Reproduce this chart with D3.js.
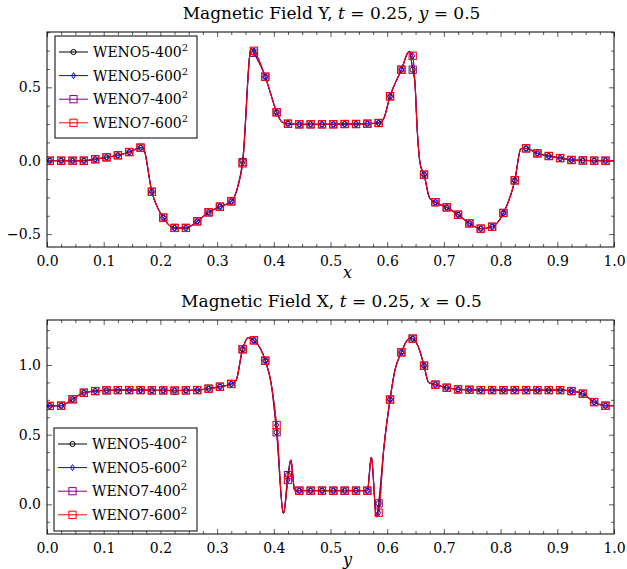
<!DOCTYPE html>
<html><head><meta charset="utf-8">
<script src="https://cdn.jsdelivr.net/npm/d3@7"></script>
<style>
html,body{margin:0;padding:0;background:#fff;}
svg text{font-family:"DejaVu Serif",serif;fill:#000;}
</style></head>
<body><svg id="chart" width="627" height="569"></svg>
<script>
// ---------- DATA ----------
const xMarks = [0.005,0.025,0.045,0.065,0.085,0.105,0.125,0.145,0.165,0.185,
                0.205,0.225,0.245,0.265,0.285,0.305,0.325,0.345,0.365,0.385,
                0.405,0.425,0.445,0.465,0.485,0.505,0.525,0.545,0.565,0.585,
                0.605,0.625,0.645,0.665,0.685,0.705,0.725,0.745,0.765,0.785,
                0.805,0.825,0.845,0.865,0.885,0.905,0.925,0.945,0.965,0.985];

const seriesNames = ["WENO5-400", "WENO5-600", "WENO7-400", "WENO7-600"];
const seriesColors = ["#000000", "#0000ff", "#800080", "#ff0000"];
const seriesMarks = ["circle", "diamond", "square", "square"];

// Top panel: Magnetic Field Y along x
const topBase = [0,0,0,0,0.01,0.023,0.037,0.059,0.089,-0.212,
                 -0.388,-0.458,-0.458,-0.413,-0.352,-0.313,-0.277,-0.018,0.749,0.572,
                 0.33,0.252,0.248,0.248,0.248,0.248,0.25,0.25,0.252,0.257,
                 0.439,0.62,0.715,-0.095,-0.283,-0.318,-0.368,-0.427,-0.463,-0.45,
                 -0.356,-0.134,0.084,0.05,0.032,0.018,0.005,0.002,0,0];
// per-series overrides [index, value]
const topDiff = [
  [[17,0.0],[18,0.735],[32,0.62]],
  [],
  [[17,-0.01],[18,0.735],[32,0.62]],
  []
];
// extra curve points between markers (shared)
const topExtraX = [0.0,0.169,0.337,0.36,0.395,0.415,0.593,0.639,0.649,0.653,0.658,0.675,0.836,1.0];
const topExtraY = [0.0,0.09,-0.17,0.766,0.45,0.262,0.28,0.745,0.527,0.209,-0.018,-0.256,0.082,0.0];

// Bottom panel: Magnetic Field X along y
const botBase = [0.706,0.708,0.754,0.801,0.813,0.818,0.82,0.82,0.82,0.818,
                 0.818,0.816,0.818,0.82,0.83,0.844,0.864,1.113,1.177,1.031,
                 0.569,0.19,0.098,0.098,0.098,0.098,0.098,0.098,0.098,-0.06,
                 0.752,1.091,1.189,0.995,0.859,0.837,0.825,0.822,0.82,0.82,
                 0.82,0.82,0.82,0.82,0.82,0.82,0.813,0.794,0.734,0.708];
const botDiff = [
  [[20,0.517],[21,0.21],[29,0.007]],
  [[21,0.175]],
  [[20,0.517],[21,0.21],[29,0.007]],
  [[21,0.175]]
];
const botExtraX = [0.0,0.333,0.355,0.396,0.417,0.43,0.437,0.572,0.581,0.594,0.613,0.64,0.655,0.673,1.0];
const botExtraY = [0.706,0.885,1.196,0.85,-0.065,0.318,0.098,0.337,-0.09,0.4,0.95,1.195,1.13,0.875,0.708];

const xTicks = [0,0.1,0.2,0.3,0.4,0.5,0.6,0.7,0.8,0.9,1.0];
const topYTicks = [-0.5,0,0.5];
const botYTicks = [0,0.5,1.0];

// ---------- DRAW ----------
const svg = d3.select("#chart");

function seriesMarkers(base, diff){
  const v = base.slice();
  diff.forEach(([i,val]) => v[i] = val);
  return xMarks.map((x,i)=>({x:x, y:v[i]}));
}

const markStroke = [0.8, 1.0, 1.0, 1.1];
function drawMarker(g, type, color, cx, cy, sw){
  if(type==="circle"){
    g.append("circle").attr("cx",cx).attr("cy",cy).attr("r",2.6)
      .attr("fill","none").attr("stroke",color).attr("stroke-width",sw);
  } else if(type==="diamond"){
    g.append("path").attr("d",`M${cx},${cy-3}L${cx+2},${cy}L${cx},${cy+3}L${cx-2},${cy}Z`)
      .attr("fill","none").attr("stroke",color).attr("stroke-width",sw);
  } else {
    g.append("rect").attr("x",cx-3.6).attr("y",cy-3.6).attr("width",7.2).attr("height",7.2)
      .attr("fill","none").attr("stroke",color).attr("stroke-width",sw);
  }
}

function panel(opts){
  const {left,right,top,bottom,yDomain,yTicks,base,diff,extraX,extraY,title,legendPos,axisVar} = opts;
  const x = d3.scaleLinear().domain([0,1]).range([left,right]);
  const y = d3.scaleLinear().domain(yDomain).range([bottom,top]);
  const g = svg.append("g");

  const cid = "clip"+Math.round(top);
  svg.append("clipPath").attr("id",cid).append("rect")
    .attr("x",left).attr("y",top).attr("width",right-left).attr("height",bottom-top);

  const xMinor = d3.range(0,1.0001,0.025).filter(v=>Math.abs(v*10-Math.round(v*10))>1e-6);
  const yMinor = d3.range(Math.ceil(yDomain[0]/0.125)*0.125, yDomain[1], 0.125)
        .filter(v=>Math.abs(v*2-Math.round(v*2))>1e-6);

  const mk = (axis, tr) => g.append("g").attr("transform",tr).call(axis)
       .call(s=>s.select(".domain").remove())
       .call(s=>s.selectAll("line").attr("stroke","#333").attr("stroke-width",0.8));

  mk(d3.axisBottom(x).tickValues(xTicks).tickSize(-5).tickPadding(9).tickFormat(d3.format(".1f")), `translate(0,${bottom})`)
    .selectAll("text").attr("font-size",14).attr("font-family","DejaVu Serif");
  mk(d3.axisBottom(x).tickValues(xMinor).tickSize(-3).tickFormat(""), `translate(0,${bottom})`);
  mk(d3.axisTop(x).tickValues(xTicks).tickSize(-5).tickFormat(""), `translate(0,${top})`);
  mk(d3.axisTop(x).tickValues(xMinor).tickSize(-3).tickFormat(""), `translate(0,${top})`);
  mk(d3.axisLeft(y).tickValues(yTicks).tickSize(-5).tickPadding(6).tickFormat(d3.format(".1f")), `translate(${left},0)`)
    .selectAll("text").attr("font-size",14).attr("font-family","DejaVu Serif");
  mk(d3.axisLeft(y).tickValues(yMinor).tickSize(-3).tickFormat(""), `translate(${left},0)`);
  mk(d3.axisRight(y).tickValues(yTicks).tickSize(-5).tickFormat(""), `translate(${right},0)`);
  mk(d3.axisRight(y).tickValues(yMinor).tickSize(-3).tickFormat(""), `translate(${right},0)`);

  const line = d3.line().x(d=>x(d.x)).y(d=>y(d.y)).curve(d3.curveMonotoneX);
  const extras = extraX.map((xx,i)=>({x:xx,y:extraY[i]}));
  const dg = g.append("g").attr("clip-path",`url(#${cid})`);
  const widths = [0.8,0.8,1.3,1.0];
  seriesNames.forEach((nm,si)=>{
    const marks = seriesMarkers(base, diff[si]);
    const pts = marks.concat(extras).sort((a,b)=>a.x-b.x);
    dg.append("path").datum(pts).attr("d",line).attr("fill","none")
      .attr("stroke",seriesColors[si]).attr("stroke-width",widths[si]);
  });
  seriesNames.forEach((nm,si)=>{
    const marks = seriesMarkers(base, diff[si]);
    marks.forEach(m=>drawMarker(dg, seriesMarks[si], seriesColors[si], x(m.x), y(m.y), markStroke[si]));
  });

  g.append("rect").attr("x",left).attr("y",top).attr("width",right-left).attr("height",bottom-top)
    .attr("fill","none").attr("stroke","#000").attr("stroke-width",1);

  const t = g.append("text").attr("x",(left+right)/2+1).attr("y",top-13)
    .attr("text-anchor","middle").attr("font-size",17);
  t.append("tspan").text(title[0]);
  t.append("tspan").attr("font-style","italic").text("t");
  t.append("tspan").text(" = 0.25, ");
  t.append("tspan").attr("font-style","italic").text(title[1]);
  t.append("tspan").text(" = 0.5");

  g.append("text").attr("x",x(0.5)+17).attr("y",bottom+31).attr("text-anchor","middle")
    .attr("font-size",16).attr("font-style","italic").text(axisVar);

  const [lx,ly,lw,lh] = legendPos;
  const lg = g.append("g");
  lg.append("rect").attr("x",lx).attr("y",ly).attr("width",lw).attr("height",lh)
    .attr("fill","#fff").attr("stroke","#000").attr("stroke-width",1);
  seriesNames.forEach((nm,si)=>{
    const yy = ly + 16 + si*23.6;
    lg.append("line").attr("x1",lx+4).attr("x2",lx+33).attr("y1",yy).attr("y2",yy)
      .attr("stroke",seriesColors[si]).attr("stroke-width",1);
    drawMarker(lg, seriesMarks[si], seriesColors[si], lx+18.5, yy, 1);
    const tx = lg.append("text").attr("x",lx+38).attr("y",yy+5).attr("font-size",14);
    tx.append("tspan").text(nm);
    tx.append("tspan").attr("font-size",10).attr("dy",-6).text("2");
  });
}

panel({left:47,right:614,top:32,bottom:247,yDomain:[-0.588,0.877],yTicks:topYTicks,
  base:topBase,diff:topDiff,extraX:topExtraX,extraY:topExtraY,
  title:["Magnetic Field Y, ","y"],legendPos:[55,36,142,102],axisVar:"x"});
panel({left:47,right:614,top:320,bottom:534,yDomain:[-0.213,1.323],yTicks:botYTicks,
  base:botBase,diff:botDiff,extraX:botExtraX,extraY:botExtraY,
  title:["Magnetic Field X, ","x"],legendPos:[54,428,143,103],axisVar:"y"});
</script></body></html>
